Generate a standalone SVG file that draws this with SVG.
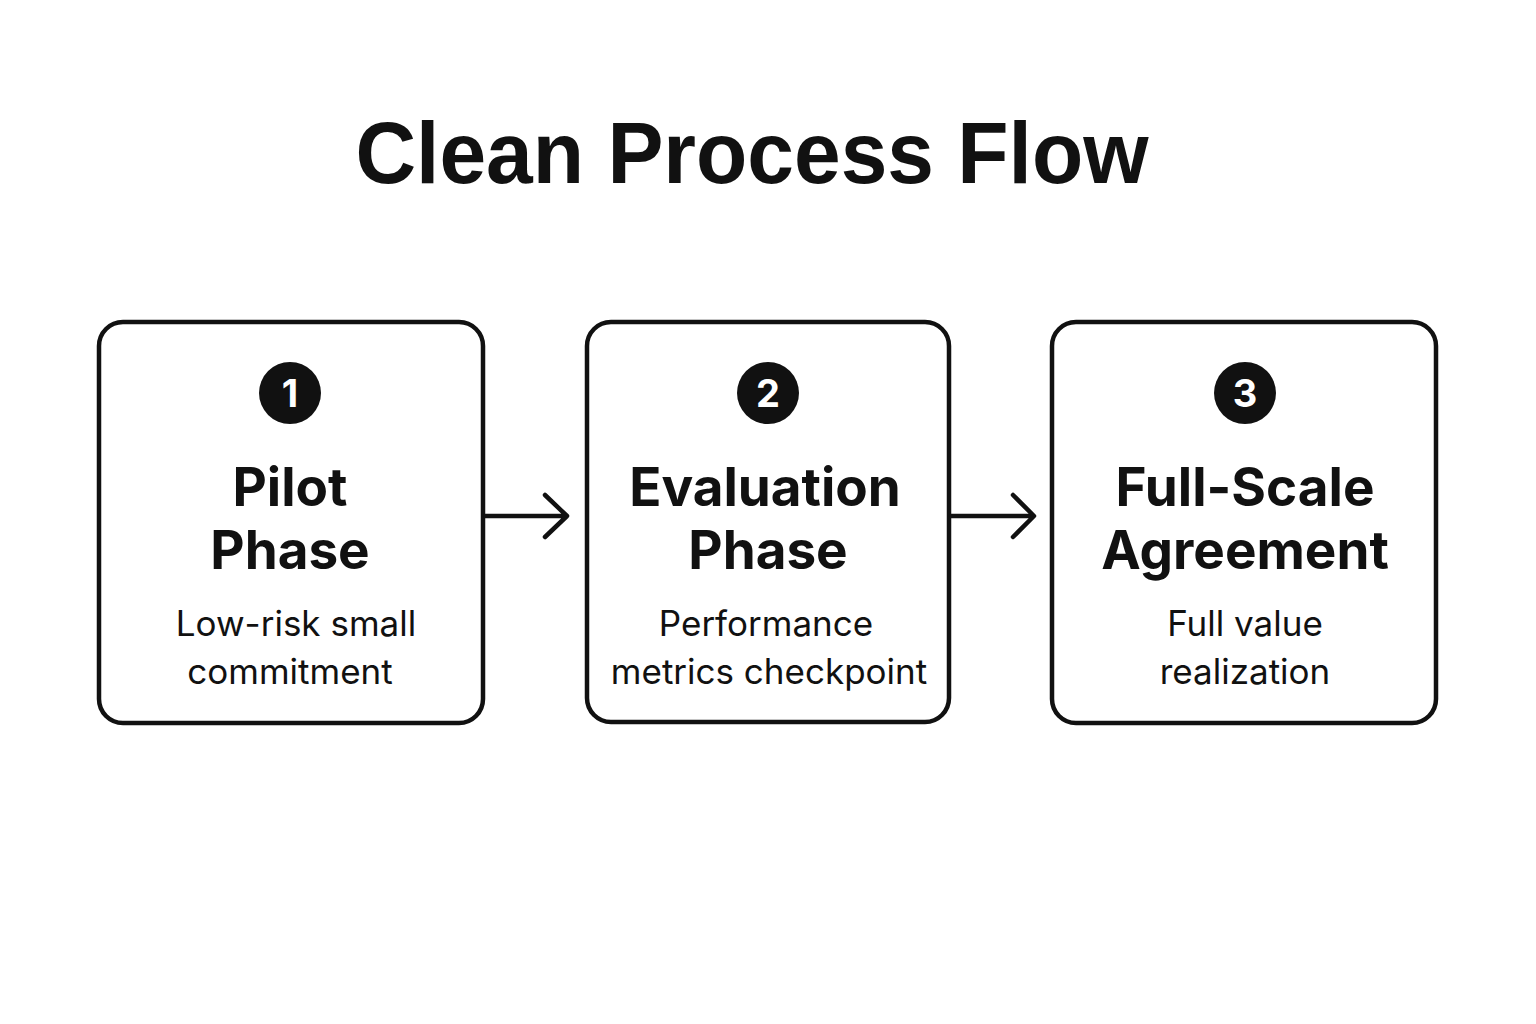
<svg xmlns="http://www.w3.org/2000/svg" width="1536" height="1024" viewBox="0 0 1536 1024">
<style>
.box{fill:#fff;stroke:#111;stroke-width:4.5}
.num{fill:#111}
.numt{font-family:Inter,"Liberation Sans",sans-serif;font-weight:700;font-size:38px;fill:#fff;text-anchor:middle}
.title{font-family:Inter,"Liberation Sans",sans-serif;font-weight:700;font-size:53px;fill:#111;text-anchor:middle}
.sub{font-family:Inter,"Liberation Sans",sans-serif;font-weight:400;font-size:35px;fill:#111;text-anchor:middle}
.conn{fill:none;stroke:#111;stroke-width:4.5;stroke-linecap:round;stroke-linejoin:round}
</style>
<rect width="1536" height="1024" fill="#fff"/>
<text x="752" y="183" font-family="'Liberation Sans',Arial,sans-serif" font-weight="700" font-size="87" fill="#111" text-anchor="middle" textLength="793" lengthAdjust="spacingAndGlyphs">Clean Process Flow</text>
<g id="node1">
<rect class="box" x="99" y="322" width="384" height="401" rx="24"/>
<circle class="num" cx="290" cy="393" r="31"/>
<text class="numt" x="290" y="407">1</text>
<text class="title" x="290" y="506">Pilot</text>
<text class="title" x="290" y="569">Phase</text>
<text class="sub" x="296" y="636">Low-risk small</text>
<text class="sub" x="290" y="684">commitment</text>
</g>
<g id="node2">
<rect class="box" x="587" y="322" width="362" height="400" rx="24"/>
<circle class="num" cx="768" cy="393" r="31"/>
<text class="numt" x="768" y="407">2</text>
<text class="title" x="765" y="506">Evaluation</text>
<text class="title" x="768" y="569">Phase</text>
<text class="sub" x="766" y="636">Performance</text>
<text class="sub" x="769" y="684">metrics checkpoint</text>
</g>
<g id="node3">
<rect class="box" x="1052" y="322" width="384" height="401" rx="24"/>
<circle class="num" cx="1245" cy="393" r="31"/>
<text class="numt" x="1245" y="407">3</text>
<text class="title" x="1245" y="506">Full-Scale</text>
<text class="title" x="1245" y="569">Agreement</text>
<text class="sub" x="1245" y="636">Full value</text>
<text class="sub" x="1245" y="684">realization</text>
</g>
<g id="connectors">
<path class="conn" d="M485 516 H566 M545 495 L567 516 L545 537"/>
<path class="conn" d="M951 516 H1033 M1013 495 L1034 516 L1013 537"/>
</g>
</svg>
